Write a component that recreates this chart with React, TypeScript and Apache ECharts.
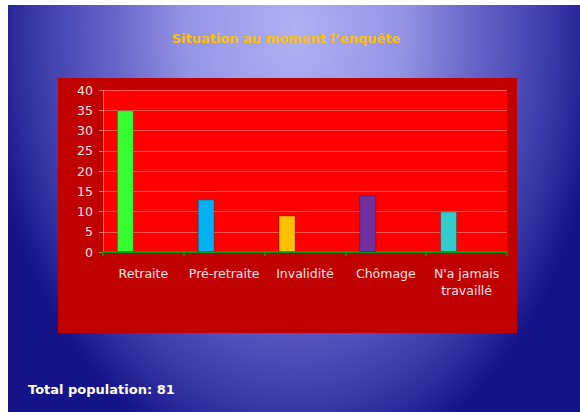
import React, { useEffect, useRef } from "react";
import * as echarts from "echarts";

const titleText = "Situation au moment l’enquête";
const footerText = "Total population: 81";
const categories = ["Retraite", "Pré-retraite", "Invalidité", "Chômage", "N'a jamais\ntravaillé"];
const values = [35, 13, 9, 14, 10];
const barColors = ["#33ff33", "#00b0f0", "#ffc000", "#7030a0", "#33cccc"];
const yTicks = { min: 0, max: 40, interval: 5 };

const W = 572;
const H = 407;
const GLOW_STRETCH = 1.45;

export default function App() {
  const ref = useRef<HTMLDivElement>(null);

  useEffect(() => {
    if (!ref.current) return;
    const chart = echarts.init(ref.current, undefined, { renderer: "svg" });

    const option = {
      animation: false,
      graphic: [
        {
          // slide background: tall elliptical radial glow from the top centre
          type: "rect",
          z: -10,
          silent: true,
          shape: { x: 0, y: 0, width: W, height: H / GLOW_STRETCH },
          scaleY: GLOW_STRETCH,
          style: {
            fill: {
              type: "radial",
              x: 286,
              y: 25 / GLOW_STRETCH,
              r: 310,
              global: true,
              colorStops: [
                { offset: 0, color: "#b0b0f4" },
                { offset: 0.35, color: "#9494e6" },
                { offset: 0.6, color: "#6262c6" },
                { offset: 0.78, color: "#4444b0" },
                { offset: 0.9, color: "#2c2c9e" },
                { offset: 1, color: "#141488" },
              ],
            },
          },
        },
        {
          type: "rect",
          z: -5,
          silent: true,
          shape: { x: 50, y: 73, width: 459, height: 255 },
          style: { fill: "#c00000" },
        },
        {
          type: "text",
          x: 278,
          y: 33,
          style: {
            text: titleText,
            fill: "#ffc000",
            font: "bold 13px 'DejaVu Sans', Verdana, sans-serif",
            align: "center",
            verticalAlign: "middle",
          },
        },
        {
          type: "text",
          x: 20,
          y: 384,
          style: {
            text: footerText,
            fill: "#ffffff",
            font: "bold 13px 'DejaVu Sans', Verdana, sans-serif",
            align: "left",
            verticalAlign: "middle",
          },
        },
      ],
      grid: {
        left: 95,
        right: 73,
        top: 85,
        bottom: 160,
        show: true,
        backgroundColor: "#ff0000",
        borderWidth: 0,
      },
      xAxis: {
        type: "category",
        data: categories,
        axisLine: { show: true, lineStyle: { color: "#00a000", width: 2 } },
        axisTick: { show: true, length: 4, lineStyle: { color: "#00a000", width: 1.5 } },
        axisLabel: {
          color: "#fbe4e4",
          fontFamily: "'DejaVu Sans', sans-serif",
          fontSize: 12.5,
          margin: 13,
          lineHeight: 17,
          interval: 0,
        },
      },
      yAxis: {
        type: "value",
        ...yTicks,
        axisLine: { show: true, lineStyle: { color: "rgba(255,190,190,0.55)", width: 1 } },
        axisTick: { show: true, length: 4, lineStyle: { color: "rgba(255,190,190,0.55)" } },
        splitLine: { show: true, lineStyle: { color: "rgba(255,170,170,0.5)", width: 1 } },
        axisLabel: {
          color: "#fbe4e4",
          fontFamily: "'DejaVu Sans', sans-serif",
          fontSize: 12.5,
          margin: 10,
        },
      },
      series: [
        {
          type: "bar",
          barWidth: 17,
          barGap: "112%",
          data: values.map((v, i) => ({
            value: v,
            itemStyle: { color: barColors[i] },
          })),
          itemStyle: { borderColor: "rgba(60,0,0,0.3)", borderWidth: 1 },
        },
        {
          // empty companion series keeps each bar in the left half of its slot
          type: "bar",
          barWidth: 17,
          barGap: "112%",
          data: [],
        },
      ],
    };

    chart.setOption(option);
    return () => chart.dispose();
  }, []);

  return (
    <div
      ref={ref}
      style={{ position: "absolute", left: 8, top: 5, width: W, height: H }}
    />
  );
}
